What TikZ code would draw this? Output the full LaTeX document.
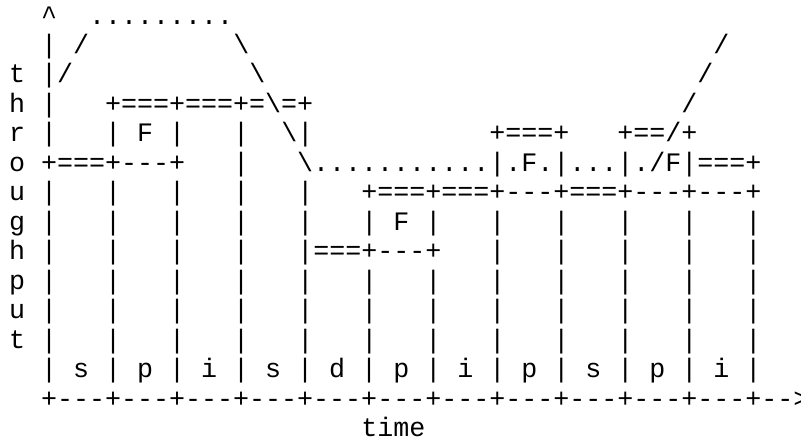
\documentclass[tikz,border=0pt]{standalone}
\usepackage{fontspec}
\setmonofont{Liberation Mono}
\usepackage{tikz}

% n blank columns of the monospaced grid
\newcommand{\gap}[1]{\hspace*{#1\fontdimen2\font}}

\begin{document}
\begin{tikzpicture}[x=16pt,y=29.47pt,
  txt/.style={font=\ttfamily\fontsize{26.67}{29.47}\selectfont,
    anchor=base west,inner sep=0pt}]
  \useasboundingbox (-0.5625,-15.1856) rectangle (49.5,-0.1856);
  \node[txt] (r1)  at (0,-1)  {\gap{2}\textasciicircum\gap{2}.........};
  \node[txt] (r2)  at (0,-2)  {\gap{2}|~/\gap{9}\textbackslash\gap{29}/};
  \node[txt] (r3)  at (0,-3)  {t~|/\gap{11}\textbackslash\gap{27}/};
  \node[txt] (r4)  at (0,-4)  {h~|\gap{3}+===+===+=\textbackslash=+\gap{23}/};
  \node[txt] (r5)  at (0,-5)  {r~|\gap{3}|~F~|\gap{3}|\gap{2}\textbackslash|\gap{11}+===+\gap{3}+==/+};
  \node[txt] (r6)  at (0,-6)  {o~+===+---+\gap{3}|\gap{3}\textbackslash...........|.F.|...|./F|===+};
  \node[txt] (r7)  at (0,-7)  {u~|\gap{3}|\gap{3}|\gap{3}|\gap{3}|\gap{3}+===+===+---+===+---+---+};
  \node[txt] (r8)  at (0,-8)  {g~|\gap{3}|\gap{3}|\gap{3}|\gap{3}|\gap{3}|~F~|\gap{3}|\gap{3}|\gap{3}|\gap{3}|\gap{3}|};
  \node[txt] (r9)  at (0,-9)  {h~|\gap{3}|\gap{3}|\gap{3}|\gap{3}|===+---+\gap{3}|\gap{3}|\gap{3}|\gap{3}|\gap{3}|};
  \node[txt] (r10) at (0,-10) {p~|\gap{3}|\gap{3}|\gap{3}|\gap{3}|\gap{3}|\gap{3}|\gap{3}|\gap{3}|\gap{3}|\gap{3}|\gap{3}|};
  \node[txt] (r11) at (0,-11) {u~|\gap{3}|\gap{3}|\gap{3}|\gap{3}|\gap{3}|\gap{3}|\gap{3}|\gap{3}|\gap{3}|\gap{3}|\gap{3}|};
  \node[txt] (r12) at (0,-12) {t~|\gap{3}|\gap{3}|\gap{3}|\gap{3}|\gap{3}|\gap{3}|\gap{3}|\gap{3}|\gap{3}|\gap{3}|\gap{3}|};
  \node[txt] (r13) at (0,-13) {\gap{2}|~s~|~p~|~i~|~s~|~d~|~p~|~i~|~p~|~s~|~p~|~i~|};
  \node[txt] (r14) at (0,-14) {\gap{2}+---+---+---+---+---+---+---+---+---+---+---+-->};
  \node[txt] (r15) at (0,-15) {\gap{22}time};
\end{tikzpicture}
\end{document}
